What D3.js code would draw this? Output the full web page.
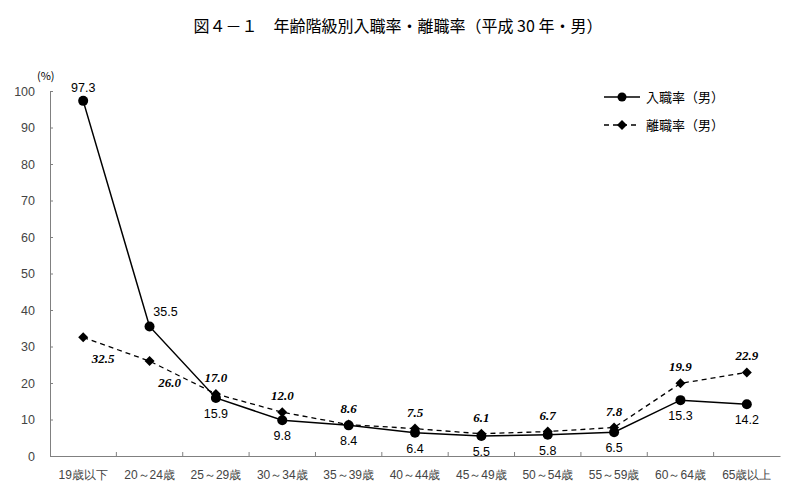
<!DOCTYPE html>
<html>
<head>
<meta charset="utf-8">
<script src="https://cdn.jsdelivr.net/npm/d3@7"></script>
<style>
  body { margin: 0; background: #fff; }
  svg { font-family: "Noto Sans CJK JP", sans-serif; }
  .axis path, .axis line { stroke: #808080; }
  .axis text { fill: #444; }
</style>
</head>
<body>
<svg width="800" height="497"></svg>
<script>
const categories = ['19歳以下', '20～24歳', '25～29歳', '30～34歳', '35～39歳', '40～44歳',
  '45～49歳', '50～54歳', '55～59歳', '60～64歳', '65歳以上'];
const entryRate = [97.3, 35.5, 15.9, 9.8, 8.4, 6.4, 5.5, 5.8, 6.5, 15.3, 14.2];
const leaveRate = [32.5, 26.0, 17.0, 12.0, 8.6, 7.5, 6.1, 6.7, 7.8, 19.9, 22.9];
const yTicks = [0, 10, 20, 30, 40, 50, 60, 70, 80, 90, 100];

const svg = d3.select('svg');
const plotLeft = 50, plotRight = 780, plotTop = 91, plotBottom = 456;

const x = d3.scaleBand().domain(categories).range([plotLeft, plotRight]);
const y = d3.scaleLinear().domain([0, 100]).range([plotBottom, plotTop]);
const cx = (c) => x(c) + x.bandwidth() / 2;

// title
svg.append('text')
  .attr('x', 398).attr('y', 32)
  .attr('text-anchor', 'middle')
  .style('font-size', '16px')
  .text('図４－１　年齢階級別入職率・離職率（平成 30 年・男）');

// axes
svg.append('g').attr('class', 'axis')
  .attr('transform', `translate(${plotLeft},0)`)
  .call(d3.axisLeft(y).tickValues(yTicks).tickSize(-3).tickPadding(15))
  .call(g => g.selectAll('text').style('font-size', '12.5px')
    .style('font-family', '"Liberation Sans", sans-serif'));

svg.append('g').attr('class', 'axis')
  .attr('transform', `translate(0,${plotBottom})`)
  .call(d3.axisBottom(x).tickSize(0).tickPadding(14))
  .call(g => g.selectAll('text').style('font-size', '12px'));

// x tick marks at category boundaries
svg.append('g').selectAll('line')
  .data(categories.slice(1))
  .enter().append('line')
  .attr('x1', c => x(c)).attr('x2', c => x(c))
  .attr('y1', plotBottom).attr('y2', plotBottom - 4)
  .attr('stroke', '#808080');

svg.append('text')
  .attr('x', 37).attr('y', 80)
  .style('font-size', '11px')
  .text('(%)');

const line = d3.line().x((d, i) => cx(categories[i])).y(d => y(d));
const diamond = d3.symbol().type(d3.symbolSquare).size(50);

// leave rate (dashed, diamonds)
svg.append('path')
  .datum(leaveRate)
  .attr('fill', 'none').attr('stroke', '#000')
  .attr('stroke-width', 1.3).attr('stroke-dasharray', '5,4')
  .attr('d', line);

svg.append('g').selectAll('path')
  .data(leaveRate)
  .enter().append('path')
  .attr('d', diamond)
  .attr('transform', (d, i) => `translate(${cx(categories[i])},${y(d)}) rotate(45)`)
  .attr('fill', '#000');

// entry rate (solid, circles)
svg.append('path')
  .datum(entryRate)
  .attr('fill', 'none').attr('stroke', '#000')
  .attr('stroke-width', 1.5)
  .attr('d', line);

svg.append('g').selectAll('circle')
  .data(entryRate)
  .enter().append('circle')
  .attr('cx', (d, i) => cx(categories[i]))
  .attr('cy', d => y(d))
  .attr('r', 5)
  .attr('fill', '#000');

// labels: entry rate
svg.append('g').selectAll('text')
  .data(entryRate)
  .enter().append('text')
  .attr('x', (d, i) => cx(categories[i]) + (i === 1 ? 16 : 0))
  .attr('y', (d, i) => i === 0 ? y(d) - 9 : i === 1 ? y(d) - 10 : y(d) + 20)
  .attr('text-anchor', 'middle')
  .style('font-size', '12.5px')
  .style('font-family', '"Liberation Sans", Arial, sans-serif')
  .text(d => d.toFixed(1));

// labels: leave rate
svg.append('g').selectAll('text')
  .data(leaveRate)
  .enter().append('text')
  .attr('x', (d, i) => cx(categories[i]) + (i < 2 ? 20 : 0))
  .attr('y', (d, i) => i < 2 ? y(d) + 26 : y(d) - 12)
  .attr('text-anchor', 'middle')
  .style('font-size', '13px')
  .style('font-weight', 'bold')
  .style('font-style', 'italic')
  .style('font-family', '"Liberation Serif", "DejaVu Serif", serif')
  .text(d => d.toFixed(1));

// legend
const legend = svg.append('g');
legend.append('line')
  .attr('x1', 604).attr('x2', 640).attr('y1', 97).attr('y2', 97)
  .attr('stroke', '#000').attr('stroke-width', 1.5);
legend.append('circle').attr('cx', 622).attr('cy', 97).attr('r', 4.5);
legend.append('text').attr('x', 646).attr('y', 101.5)
  .style('font-size', '13px').text('入職率（男）');

legend.append('line')
  .attr('x1', 604).attr('x2', 640).attr('y1', 125).attr('y2', 125)
  .attr('stroke', '#000').attr('stroke-width', 1.3).attr('stroke-dasharray', '5,4');
legend.append('path')
  .attr('d', diamond)
  .attr('transform', 'translate(622,125) rotate(45)');
legend.append('text').attr('x', 646).attr('y', 129.5)
  .style('font-size', '13px').text('離職率（男）');
</script>
</body>
</html>
